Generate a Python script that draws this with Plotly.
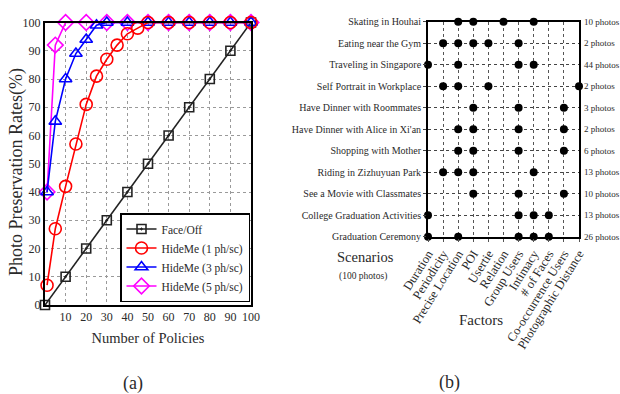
import plotly.graph_objects as go

# ---------------- Panel (a) data ----------------
faceoff_x = [0, 10, 20, 30, 40, 50, 60, 70, 80, 90, 100]
faceoff_y = [0, 10, 20, 30, 40, 50, 60, 70, 80, 90, 100]

hm1_x = [1, 5, 10, 15, 20, 25, 30, 35, 40, 45, 50, 60, 70, 80, 90, 100]
hm1_y = [7, 27, 42, 57, 71, 81, 87, 92, 96, 98, 100, 100, 100, 100, 100, 100]

hm3_x = [1, 5, 10, 15, 20, 25, 30, 40, 50, 60, 70, 80, 90, 100]
hm3_y = [40, 65, 80, 89, 94, 99, 100, 100, 100, 100, 100, 100, 100, 100]

hm5_x = [1, 5, 10, 20, 30, 40, 50, 60, 70, 80, 90, 100]
hm5_y = [40, 92, 100, 100, 100, 100, 100, 100, 100, 100, 100, 100]

x_ticks = [10, 20, 30, 40, 50, 60, 70, 80, 90, 100]
y_ticks = [0, 10, 20, 30, 40, 50, 60, 70, 80, 90, 100]

# ---------------- Panel (b) data ----------------
scenarios = [
    "Skating in Houhai",
    "Eating near the Gym",
    "Traveling in Singapore",
    "Self Portrait in Workplace",
    "Have Dinner with Roommates",
    "Have Dinner with Alice in Xi'an",
    "Shopping with Mother",
    "Riding in Zizhuyuan Park",
    "See a Movie with Classmates",
    "College Graduation Activities",
    "Graduation Ceremony",
]
photo_counts = [
    "10 photos", "2 photos", "44 photos", "2 photos", "3 photos", "2 photos",
    "6 photos", "13 photos", "10 photos", "13 photos", "26 photos",
]
factors = [
    "Duration", "Periodicity", "Precise Location", "POI", "Usertie",
    "Relation", "Group Users", "Intimacy", "# of Faces",
    "Co-occurrence Users", "Photographic Distance",
]
# factor indices marked for each scenario (row order as above)
scenario_factors = [
    [2, 3, 5, 7],
    [1, 2, 3, 4, 6],
    [0, 2, 6, 7],
    [1, 2, 4, 10],
    [3, 6, 9],
    [2, 3, 6, 9],
    [2, 3, 6, 9],
    [1, 2, 3, 7],
    [3, 6, 9],
    [0, 6, 7, 8],
    [0, 2, 6, 7, 8],
]

FONT = "Liberation Serif"
TXT = "#2a2a2a"

fig = go.Figure()

# Panel (a) traces: draw order magenta, blue, red on top; legend order via legendrank
fig.add_trace(go.Scatter(
    x=faceoff_x, y=faceoff_y, name="Face/Off", mode="lines+markers",
    line=dict(color="#222222", width=1.6),
    marker=dict(symbol="square-open-dot", size=9, color="#222222", line=dict(width=1.6)),
    cliponaxis=False, legendrank=1, xaxis="x", yaxis="y"))
fig.add_trace(go.Scatter(
    x=hm5_x, y=hm5_y, name="HideMe (5 ph/sc)", mode="lines+markers",
    line=dict(color="#ff00ff", width=1.6),
    marker=dict(symbol="diamond-open", size=12, color="#ff00ff", line=dict(width=1.6)),
    cliponaxis=False, legendrank=4, xaxis="x", yaxis="y"))
fig.add_trace(go.Scatter(
    x=hm3_x, y=hm3_y, name="HideMe (3 ph/sc)", mode="lines+markers",
    line=dict(color="#0000ff", width=1.6),
    marker=dict(symbol="triangle-up-open", size=11, color="#0000ff", line=dict(width=1.6)),
    cliponaxis=False, legendrank=3, xaxis="x", yaxis="y"))
fig.add_trace(go.Scatter(
    x=hm1_x, y=hm1_y, name="HideMe (1 ph/sc)", mode="lines+markers",
    line=dict(color="#ff0000", width=1.6),
    marker=dict(symbol="circle-open", size=12, color="#ff0000", line=dict(width=1.6)),
    cliponaxis=False, legendrank=2, xaxis="x", yaxis="y"))

# Panel (b) dot matrix
dot_x, dot_y = [], []
for r, cols in enumerate(scenario_factors):
    for c in cols:
        dot_x.append(c)
        dot_y.append(r)
fig.add_trace(go.Scatter(
    x=dot_x, y=dot_y, mode="markers", showlegend=False,
    marker=dict(symbol="circle", size=8, color="black"),
    cliponaxis=False, xaxis="x2", yaxis="y2", hoverinfo="skip"))

W, H = 620, 394
ax_domain_x = [45 / W, 251 / W]
ax_domain_y = [1 - 305 / H, 1 - 22.5 / H]
bx_domain_x = [428 / W, 579 / W]
bx_domain_y = [1 - 236.7 / H, 1 - 21.7 / H]

fig.update_layout(
    width=W, height=H,
    margin=dict(l=0, r=0, t=0, b=0),
    paper_bgcolor="white", plot_bgcolor="white",
    font=dict(family=FONT, color=TXT, size=12),
    xaxis=dict(
        domain=ax_domain_x, range=[0, 100], anchor="y",
        tickmode="array", tickvals=x_ticks,
        showgrid=True, gridcolor="#9a9a9a", griddash="dot", gridwidth=1,
        zeroline=False, showline=True, linecolor="black", linewidth=2, mirror=True,
        ticks="", tickfont=dict(size=12, family=FONT, color=TXT),
        title=dict(text="Number of Policies", font=dict(size=14.5, family=FONT, color=TXT), standoff=9),
        automargin=False),
    yaxis=dict(
        domain=ax_domain_y, range=[0, 100], anchor="x",
        tickmode="array", tickvals=y_ticks,
        showgrid=True, gridcolor="#9a9a9a", griddash="dot", gridwidth=1,
        zeroline=False, showline=True, linecolor="black", linewidth=2, mirror=True,
        ticks="", tickfont=dict(size=12, family=FONT, color=TXT),
        automargin=False),
    xaxis2=dict(
        domain=bx_domain_x, range=[0, 10], anchor="y2",
        tickmode="array", tickvals=list(range(len(factors))), ticktext=factors,
        tickangle=-58, tickfont=dict(size=12.5, family=FONT, color=TXT),
        showgrid=True, gridcolor="#555555", griddash="dot", gridwidth=1,
        zeroline=False, showline=True, linecolor="black", linewidth=1.8, mirror=True,
        ticks="outside", ticklen=3, tickcolor="#555555",
        automargin=False),
    yaxis2=dict(
        domain=bx_domain_y, range=[10, 0], anchor="x2",
        tickmode="array", tickvals=list(range(len(scenarios))), ticktext=scenarios,
        tickfont=dict(size=10, family=FONT, color=TXT),
        showgrid=True, gridcolor="#444444", griddash="dot", gridwidth=1,
        zeroline=False, showline=True, linecolor="black", linewidth=1.8, mirror=True,
        ticks="outside", ticklen=3, tickcolor="#444444",
        automargin=False),
    legend=dict(
        x=250 / W, y=1 - 302 / H, xanchor="right", yanchor="bottom",
        bgcolor="white", bordercolor="black", borderwidth=1.5,
        font=dict(size=11.5, family=FONT, color=TXT),
        tracegroupgap=0, itemwidth=30),
    showlegend=True,
)

# right-hand photo counts, placed on the scenario rows of panel (b)
for i, label in enumerate(photo_counts):
    fig.add_annotation(text=label, xref="paper", yref="y2",
                       x=582 / W, y=i, xanchor="left", yanchor="middle",
                       showarrow=False, font=dict(size=9, family=FONT, color=TXT))

def note(text, x, y, size, angle=0):
    fig.add_annotation(text=text, xref="paper", yref="paper",
                       x=x / W, y=1 - y / H, xanchor="center", yanchor="middle",
                       showarrow=False, textangle=angle,
                       font=dict(size=size, family=FONT, color=TXT))

note("Photo Preservation Rates(%)", 16, 172, 18, angle=-90)
note("Scenarios", 365, 257, 14.5)
note("(100 photos)", 363, 276, 9.5)
note("Factors", 481, 320, 15)
note("(a)", 133, 383, 18)
note("(b)", 449, 382, 18)

fig.write_html("out.html",
               config={"displayModeBar": False},
               post_script="document.body.style.margin='0';document.body.style.padding='0';")
